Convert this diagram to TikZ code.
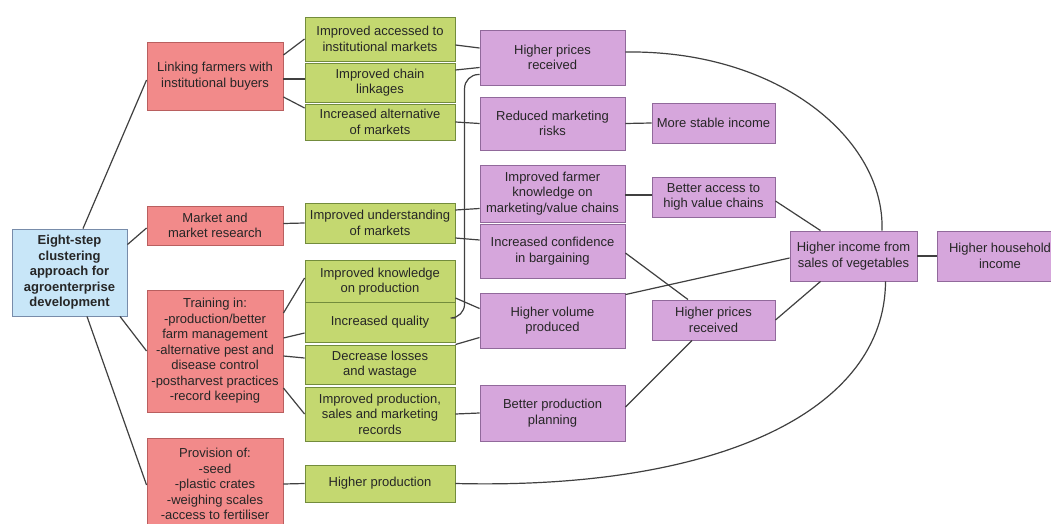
\documentclass[tikz,border=0pt]{standalone}
\usepackage{fontspec}
\setmainfont{Liberation Sans}
\definecolor{redf}{RGB}{242,138,138}
\definecolor{redd}{RGB}{185,95,95}
\definecolor{grnf}{RGB}{196,216,112}
\definecolor{grnd}{RGB}{115,140,60}
\definecolor{purf}{RGB}{214,166,220}
\definecolor{purd}{RGB}{145,105,155}
\definecolor{bluf}{RGB}{200,230,248}
\definecolor{blud}{RGB}{120,140,170}
\tikzset{
  box/.style={draw, line width=0.9pt, align=center, inner sep=1pt,
    font=\fontsize{13}{15.5}\selectfont, text=black!85},
  redbox/.style={box, fill=redf, draw=redd, minimum width=136pt},
  grnbox/.style={box, fill=grnf, draw=grnd, minimum width=150pt},
  purbox/.style={box, fill=purf, draw=purd, minimum width=145pt},
  purboxs/.style={box, fill=purf, draw=purd, minimum width=123pt},
  blubox/.style={box, fill=bluf, draw=blud, minimum width=115pt},
  conn/.style={draw=black!75, line width=1.2pt},
}
\begin{document}
\begin{tikzpicture}[x=1pt,y=-1pt]
\clip (0,0) rectangle (1051,524);
\fill[white] (0,0) rectangle (1051,524);
% root
\node[blubox, minimum height=87pt, font=\fontsize{13}{15.5}\selectfont\bfseries] (eight) at (69.5,272.5) {Eight-step\\clustering\\approach for\\agroenterprise\\development};
% red column
\node[redbox, minimum height=68pt] (link) at (215,76) {Linking farmers with\\institutional buyers};
\node[redbox, minimum height=39pt] (mkt) at (215,225.5) {Market and\\market research};
\node[redbox, minimum height=122pt] (train) at (215,351) {Training in:\\-production/better\\farm management\\-alternative pest and\\disease control\\-postharvest practices\\-record keeping};
\node[redbox, minimum height=92pt] (prov) at (215,484) {Provision of:\\-seed\\-plastic crates\\-weighing scales\\-access to fertiliser};
% green column
\node[grnbox, minimum height=44pt] (g1) at (380,39) {Improved accessed to\\institutional markets};
\node[grnbox, minimum height=39pt] (g2) at (380,82.5) {Improved chain\\linkages};
\node[grnbox, minimum height=36pt] (g3) at (380,122) {Increased alternative\\of markets};
\node[grnbox, minimum height=40pt] (g4) at (380,223) {Improved understanding\\of markets};
\node[grnbox, minimum height=43pt] (g5) at (380,281.5) {Improved knowledge\\on production};
\node[grnbox, minimum height=40pt] (g6) at (380,322) {Increased quality};
\node[grnbox, minimum height=39pt] (g7) at (380,364.5) {Decrease losses\\and wastage};
\node[grnbox, minimum height=54pt] (g8) at (380,414) {Improved production,\\sales and marketing\\records};
\node[grnbox, minimum height=37pt] (g9) at (380,483.5) {Higher production};
% purple column 1
\node[purbox, minimum height=55pt] (p1) at (552.5,57.5) {Higher prices\\received};
\node[purbox, minimum height=53pt] (p2) at (552.5,123.5) {Reduced marketing\\risks};
\node[purbox, minimum height=57pt] (p3) at (552.5,193.5) {Improved farmer\\knowledge on\\marketing/value chains};
\node[purbox, minimum height=54pt] (p4) at (552.5,251) {Increased confidence\\in bargaining};
\node[purbox, minimum height=55pt] (p5) at (552.5,320.5) {Higher volume\\produced};
\node[purbox, minimum height=56pt] (p6) at (552.5,413) {Better production\\planning};
% purple column 2
\node[purboxs, minimum height=40pt] (q1) at (713.5,123) {More stable income};
\node[purboxs, minimum height=40pt] (q2) at (713.5,197) {Better access to\\high value chains};
\node[purboxs, minimum height=40pt] (q3) at (713.5,320) {Higher prices\\received};
% outcomes
\node[box, fill=purf, draw=purd, minimum width=127pt, minimum height=50pt] (r1) at (853.5,256) {Higher income from\\sales of vegetables};
\node[box, fill=purf, draw=purd, minimum width=126pt, minimum height=50pt] (r2) at (1000,256) {Higher household\\income};
% connectors: root
\draw[conn] ([xshift=13.5pt]eight.north) -- ([yshift=-4pt]link.west);
\draw[conn] ([yshift=-16pt]eight.north east) -- ([yshift=-2.5pt]mkt.west);
\draw[conn] ([xshift=50.5pt]eight.south) -- (train.west);
\draw[conn] ([xshift=17.5pt]eight.south) -- ([yshift=-1pt]prov.west);
% red -> green
\draw[conn] ([yshift=21pt]link.east) -- (g1.west);
\draw[conn] ([yshift=-3pt]link.east) -- ([yshift=3.5pt]g2.west);
\draw[conn] ([yshift=-21pt]link.east) -- ([yshift=14pt]g3.west);
\draw[conn] ([yshift=2pt]mkt.east) -- (g4.west);
\draw[conn] ([yshift=38pt]train.east) -- ([yshift=3.5pt]g5.west);
\draw[conn] ([yshift=13pt]train.east) -- ([yshift=-11pt]g6.west);
\draw[conn] ([yshift=-5pt]train.east) -- ([yshift=6.5pt]g7.west);
\draw[conn] ([yshift=-37pt]train.east) -- (g8.west);
\draw[conn] (prov.east) -- (g9.west);
% green -> purple
\draw[conn] ([yshift=-6pt]g1.east) -- ([yshift=9.5pt]p1.west);
\draw[conn] ([yshift=12.5pt]g2.east) -- ([yshift=-10pt]p1.west);
\draw[conn] (g3.east) -- (p2.west);
\draw[conn, rounded corners=14pt] ([yshift=4pt]g6.east) -| ([xshift=-15pt,yshift=-17pt]p1.west) -- ([yshift=-17pt]p1.west);
\draw[conn] ([yshift=13pt]g4.east) -- ([yshift=-15pt]p3.west);
\draw[conn] ([yshift=-15pt]g4.east) -- ([yshift=11pt]p4.west);
\draw[conn] ([yshift=-16.5pt]g5.east) -- ([yshift=12pt]p5.west);
\draw[conn] ([yshift=20pt]g7.east) -- ([yshift=-17pt]p5.west);
\draw[conn] (g8.east) -- (p6.west);
\draw[conn] (g9.east) .. controls (720,490) and (885,410) .. ([xshift=32pt]r1.south);
% purple
\draw[conn] ([yshift=5.5pt]p1.east) .. controls (780,50) and (885,140) .. ([xshift=28.5pt]r1.north);
\draw[conn] (p2.east) -- (q1.west);
\draw[conn] ([yshift=-1.5pt]p3.east) -- ([yshift=2pt]q2.west);
\draw[conn] ([yshift=-2pt]p4.east) -- ([xshift=-25.5pt]q3.north);
\draw[conn] ([yshift=-2pt]p5.north east) -- ([yshift=-2pt]r1.west);
\draw[conn] ([yshift=6pt]p6.east) -- ([xshift=-21.5pt]q3.south);
\draw[conn] (q3.east) -- ([xshift=-33pt]r1.south);
\draw[conn] ([yshift=-4pt]q2.east) -- ([xshift=-33pt]r1.north);
\draw[conn] (r1.east) -- (r2.west);
\end{tikzpicture}
\end{document}
